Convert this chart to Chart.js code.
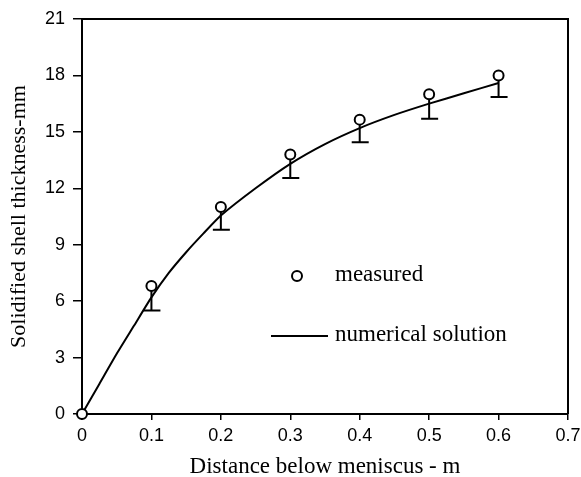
<!DOCTYPE html>
<html>
<head>
<meta charset="utf-8">
<script src="https://cdn.jsdelivr.net/npm/chart.js@4.4.0/dist/chart.umd.min.js"></script>
<style>
  html, body { margin: 0; padding: 0; background: #fff; }
  canvas { display: block; }
</style>
</head>
<body>
<canvas id="myChart" width="581" height="477"></canvas>
<script>
// measured shell thickness (circles) with lower error bar ends
const measuredX = [0, 0.1, 0.2, 0.3, 0.4, 0.5, 0.6];
const measuredY = [0, 6.8, 11.0, 13.8, 15.65, 17.0, 18.0];
const errorLow = [null, 5.5, 9.8, 12.55, 14.45, 15.7, 16.85];

// numerical solution curve
const solutionX = [0, 0.025, 0.05, 0.075, 0.1, 0.125, 0.15, 0.175, 0.2, 0.25, 0.3, 0.35, 0.4, 0.45, 0.5, 0.55, 0.6];
const solutionY = [0, 1.6, 3.2, 4.7, 6.2, 7.5, 8.6, 9.6, 10.55, 12.0, 13.3, 14.35, 15.2, 15.9, 16.5, 17.05, 17.6];

const xTicks = [0, 0.1, 0.2, 0.3, 0.4, 0.5, 0.6, 0.7];
const yTicks = [0, 3, 6, 9, 12, 15, 18, 21];

const serif = '"Liberation Serif", "Times New Roman", serif';
const sans = '"Liberation Sans", Arial, sans-serif';

const ctx = document.getElementById('myChart').getContext('2d');

const frameBox = {
  id: 'frameBox',
  afterDatasetsDraw(chart) {
    const { ctx, chartArea: a } = chart;
    ctx.save();
    ctx.strokeStyle = '#000';
    ctx.lineWidth = 2;
    ctx.beginPath();
    ctx.moveTo(a.left, a.top);
    ctx.lineTo(a.right, a.top);
    ctx.lineTo(a.right, a.bottom);
    ctx.stroke();
    ctx.restore();
  }
};

const errorBars = {
  id: 'errorBars',
  beforeDatasetsDraw(chart) {
    const { ctx, scales } = chart;
    ctx.save();
    ctx.strokeStyle = '#000';
    ctx.lineWidth = 2;
    measuredX.forEach((x, i) => {
      if (errorLow[i] == null) return;
      const px = scales.x.getPixelForValue(x);
      const py = scales.y.getPixelForValue(measuredY[i]);
      const pl = scales.y.getPixelForValue(errorLow[i]);
      ctx.beginPath();
      ctx.moveTo(px, py);
      ctx.lineTo(px, pl);
      ctx.moveTo(px - 8, pl);
      ctx.lineTo(px + 9, pl);
      ctx.stroke();
    });
    ctx.restore();
  }
};

const legendBox = {
  id: 'legendBox',
  afterDraw(chart) {
    const { ctx } = chart;
    ctx.save();
    ctx.strokeStyle = '#000';
    ctx.fillStyle = '#fff';
    ctx.lineWidth = 2;
    ctx.beginPath();
    ctx.arc(297, 276, 5, 0, Math.PI * 2);
    ctx.fill();
    ctx.stroke();
    ctx.beginPath();
    ctx.moveTo(271, 336);
    ctx.lineTo(328, 336);
    ctx.stroke();
    ctx.fillStyle = '#000';
    ctx.font = '23px ' + serif;
    ctx.textBaseline = 'middle';
    ctx.fillText('measured', 335, 275);
    ctx.fillText('numerical solution', 335, 335);
    ctx.restore();
  }
};

new Chart(ctx, {
  type: 'scatter',
  data: {
    datasets: [
      {
        label: 'numerical solution',
        data: solutionX.map((x, i) => ({ x: x, y: solutionY[i] })),
        showLine: true,
        borderColor: '#000',
        borderWidth: 2,
        pointRadius: 0,
        tension: 0.2,
        order: 2
      },
      {
        label: 'measured',
        data: measuredX.map((x, i) => ({ x: x, y: measuredY[i] })),
        pointStyle: 'circle',
        pointRadius: 5,
        borderWidth: 2,
        borderColor: '#000',
        backgroundColor: '#fff',
        clip: false,
        order: 1
      }
    ]
  },
  options: {
    responsive: false,
    animation: false,
    layout: { padding: { top: 19, right: 13, left: 0, bottom: 0 } },
    plugins: {
      legend: { display: false },
      tooltip: { enabled: false }
    },
    scales: {
      x: {
        type: 'linear',
        min: 0,
        max: 0.7,
        afterBuildTicks: (scale) => { scale.ticks = xTicks.map(v => ({ value: v })); },
        afterFit: (scale) => {
          scale.height = 63;
          scale.paddingLeft = 0;
          scale.paddingRight = 0;
        },
        border: { color: '#000', width: 2 },
        grid: { drawOnChartArea: false, drawTicks: true, tickLength: 6, color: '#000', lineWidth: 1.5 },
        ticks: {
          color: '#000',
          font: { family: sans, size: 18 },
          padding: 5,
          maxRotation: 0,
          callback: (v) => String(Math.round(v * 10) / 10)
        },
        title: {
          display: true,
          text: 'Distance below meniscus - m',
          color: '#000',
          font: { family: serif, size: 23, lineHeight: 0.85 },
          padding: { top: 0, bottom: 0 }
        }
      },
      y: {
        type: 'linear',
        min: 0,
        max: 21,
        afterBuildTicks: (scale) => { scale.ticks = yTicks.map(v => ({ value: v })); },
        afterFit: (scale) => { scale.width = 82; },
        border: { color: '#000', width: 2 },
        grid: { drawOnChartArea: false, drawTicks: true, tickLength: 9, color: '#000', lineWidth: 1.5 },
        ticks: {
          color: '#000',
          font: { family: sans, size: 18 },
          padding: 8
        },
        title: {
          display: true,
          text: 'Solidified shell thickness-mm',
          color: '#000',
          font: { family: serif, size: 22, lineHeight: 1 },
          padding: { top: 8, bottom: 0 }
        }
      }
    }
  },
  plugins: [errorBars, frameBox, legendBox]
});
</script>
</body>
</html>
